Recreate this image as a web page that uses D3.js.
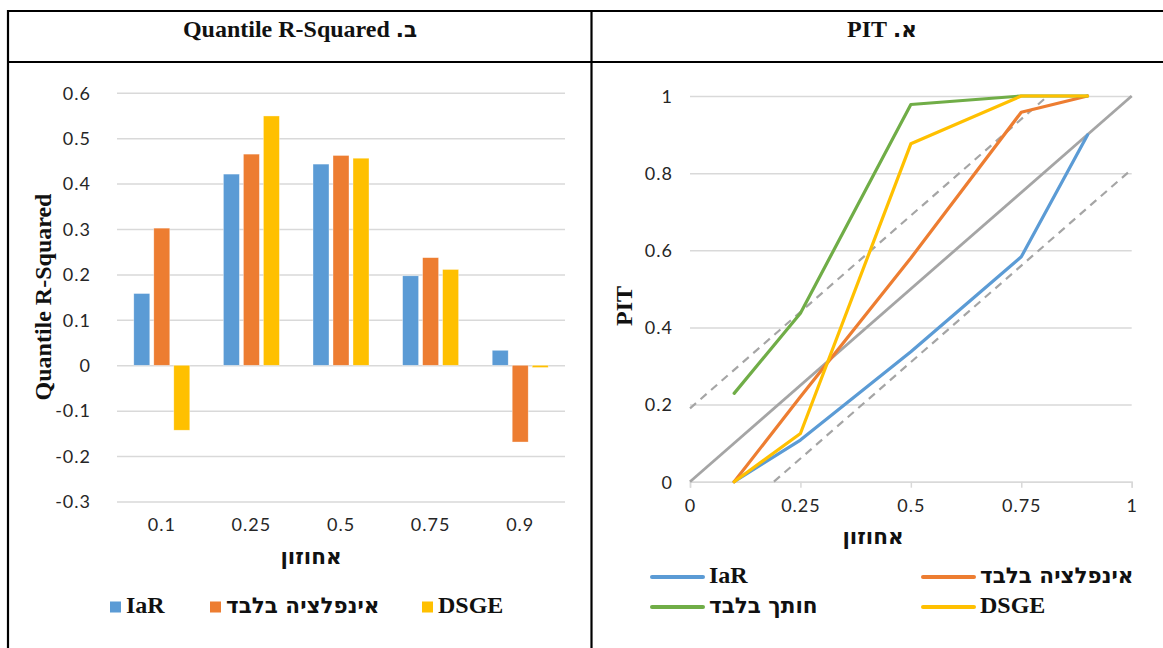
<!DOCTYPE html>
<html><head><meta charset="utf-8">
<script src="https://cdn.jsdelivr.net/npm/d3@7"></script>
<style>
html,body{margin:0;padding:0;background:#fff;}
svg{display:block;}
.tick-lbl{font-family:Lato,"Open Sans",sans-serif;font-size:18px;fill:#262626;letter-spacing:1px;}
.ttl{font-family:"Liberation Serif","DejaVu Sans",serif;font-weight:bold;fill:#111;}
.heb{font-family:"DejaVu Sans",sans-serif;font-weight:bold;fill:#111;}
</style></head>
<body>
<svg id="c" width="1163" height="648"></svg>
<script>
// ---------- data ----------
const categories = ["0.1", "0.25", "0.5", "0.75", "0.9"];
const seriesNames = ["IaR", "אינפלציה בלבד", "DSGE"];
const iarR2 = [0.158, 0.421, 0.443, 0.197, 0.033];
const inflR2 = [0.302, 0.465, 0.462, 0.237, -0.169];
const dsgeR2 = [-0.143, 0.549, 0.456, 0.211, -0.005];
const r2Ticks = [-0.3, -0.2, -0.1, 0, 0.1, 0.2, 0.3, 0.4, 0.5, 0.6];

const pitX = [0.1, 0.25, 0.5, 0.75, 0.9];
const pitIaR = [0, 0.108, 0.337, 0.583, 0.899];
const pitInfl = [0, 0.22, 0.58, 0.958, 1.0];
const pitGap = [0.229, 0.437, 0.978, 1.0, 1.0];
const pitDsge = [0, 0.125, 0.876, 1.0, 1.0];
const pitNames = ["IaR", "אינפלציה בלבד", "חותך בלבד", "DSGE"];
const diagX = [0, 1], diagY = [0, 1];
const upperX = [0, 0.81], upperY = [0.19, 1];
const lowerX = [0.19, 1], lowerY = [0, 0.81];
const pitYTicks = [0, 0.2, 0.4, 0.6, 0.8, 1];
const pitXTicks = [0, 0.25, 0.5, 0.75, 1];

const leftTitleHeb = "ב.";
const leftTitleLat = "Quantile R-Squared";
const rightTitleHeb = "א.";
const rightTitleLat = "PIT";
const xTitle = "אחוזון";
const r2YTitle = "Quantile R-Squared";
const pitYTitle = "PIT";

const colors = {blue:"#5b9bd5", orange:"#ed7d31", yellow:"#ffc000", green:"#70ad47", gray:"#a5a5a5", grid:"#d9d9d9"};
const isHeb = s => /[\u0590-\u05FF]/.test(s) && !/[A-Za-z]/.test(s);
const fmt = v => String(+v.toFixed(2));
const HEB_SIZE = "21.5px", LAT_SIZE = "24px";

// ---------- table frame ----------
const svg = d3.select("#c");
const frame = svg.append("g").attr("stroke", "#000").attr("stroke-width", 2.2);
frame.append("line").attr("x1", 7).attr("x2", 1163).attr("y1", 11).attr("y2", 11);
frame.append("line").attr("x1", 7).attr("x2", 1163).attr("y1", 62).attr("y2", 62);
frame.append("line").attr("x1", 8).attr("x2", 8).attr("y1", 10).attr("y2", 648);
frame.append("line").attr("x1", 591.5).attr("x2", 591.5).attr("y1", 10).attr("y2", 648);

function header(cx, heb, lat) {
  const t = svg.append("text").attr("x", cx).attr("y", 31)
    .attr("direction", "rtl").attr("text-anchor", "middle").attr("dominant-baseline", "middle");
  t.append("tspan").attr("class", "heb").style("font-size", HEB_SIZE).text(heb);
  t.append("tspan").attr("class", "ttl").style("font-size", LAT_SIZE).text(" " + lat);
}
header(300, leftTitleHeb, leftTitleLat);
header(882, rightTitleHeb, rightTitleLat);

// ---------- left: bar chart ----------
{
  const y = d3.scaleLinear().domain([-0.3, 0.6]).range([501.5, 92.8]);
  const x0 = d3.scaleBand().domain(categories).range([117, 565]).paddingInner(0).paddingOuter(0);
  const groupW = 56;
  const x1 = d3.scaleBand().domain(seriesNames).range([0, groupW]).paddingInner(0.2).paddingOuter(0);
  const g = svg.append("g");
  const yAxis = d3.axisLeft(y).tickValues(r2Ticks).tickSize(-(565 - 117)).tickFormat(fmt);
  const ya = g.append("g").attr("transform", "translate(117,0)").call(yAxis);
  ya.select(".domain").remove();
  ya.selectAll("line").attr("stroke", colors.grid).attr("stroke-width", 1.5);
  ya.selectAll("text").attr("class", "tick-lbl").attr("x", -26).attr("dy", "0.35em");

  const data = categories.map((c, i) => ({c, vals: [iarR2[i], inflR2[i], dsgeR2[i]]}));
  const cols = [colors.blue, colors.orange, colors.yellow];
  const grp = g.selectAll(".grp").data(data).enter().append("g")
    .attr("transform", d => `translate(${x0(d.c) + (x0.bandwidth() - groupW) / 2},0)`);
  grp.selectAll("rect").data(d => d.vals.map((v, k) => ({v, k}))).enter().append("rect")
    .attr("x", d => x1(seriesNames[d.k])).attr("width", x1.bandwidth())
    .attr("y", d => y(Math.max(0, d.v))).attr("height", d => Math.abs(y(d.v) - y(0)))
    .attr("fill", d => cols[d.k]).attr("stroke", "#fff").attr("stroke-width", 0.6).attr("stroke-opacity", 0.6);

  const xAxis = d3.axisBottom(x0).tickSize(0);
  const xa = g.append("g").attr("transform", "translate(0,525)").call(xAxis);
  xa.select(".domain").remove();
  xa.selectAll("text").attr("class", "tick-lbl").attr("y", 0).attr("dy", "0.35em");

  g.append("text").attr("class", "ttl").attr("transform", "translate(45,297) rotate(-90)")
    .attr("text-anchor", "middle").attr("dominant-baseline", "middle").style("font-size", LAT_SIZE).text(r2YTitle);
  g.append("text").attr("class", "heb").attr("x", 311).attr("y", 558)
    .attr("text-anchor", "middle").attr("dominant-baseline", "middle").style("font-size", HEB_SIZE).text(xTitle);

  const legX = [110, 210, 422];
  const leg = g.selectAll(".leg").data(seriesNames).enter().append("g")
    .attr("transform", (d, i) => `translate(${legX[i]},607)`);
  leg.append("rect").attr("x", 0).attr("y", -5.5).attr("width", 11).attr("height", 11).attr("fill", (d, i) => cols[i]);
  leg.append("text").attr("class", d => isHeb(d) ? "heb" : "ttl").attr("x", 16).attr("y", 0).attr("dominant-baseline", "middle")
    .style("font-size", d => isHeb(d) ? HEB_SIZE : LAT_SIZE).text(d => d);
}

// ---------- right: PIT lines ----------
{
  const x = d3.scaleLinear().domain([0, 1]).range([690, 1131.7]);
  const y = d3.scaleLinear().domain([0, 1]).range([481.7, 96]);
  const g = svg.append("g");
  const yAxis = d3.axisLeft(y).tickValues(pitYTicks).tickSize(-(1131.7 - 690)).tickFormat(fmt);
  const ya = g.append("g").attr("transform", "translate(690,0)").call(yAxis);
  ya.select(".domain").remove();
  ya.selectAll("line").attr("stroke", colors.grid).attr("stroke-width", 1.5);
  ya.selectAll("text").attr("class", "tick-lbl").attr("x", -17).attr("dy", "0.35em");

  const xAxis = d3.axisBottom(x).tickValues(pitXTicks).tickSize(6).tickFormat(fmt);
  const xa = g.append("g").attr("transform", "translate(0,481.7)").call(xAxis);
  xa.select(".domain").attr("stroke", colors.grid).attr("stroke-width", 1.5);
  xa.selectAll("line").attr("stroke", colors.grid).attr("stroke-width", 1.5);
  xa.selectAll("text").attr("class", "tick-lbl").attr("y", 24).attr("dy", "0.35em");

  const line = d3.line().x(d => x(d[0])).y(d => y(d[1]));
  const zip = (a, b) => a.map((v, i) => [v, b[i]]);
  g.append("path").attr("d", line(zip(upperX, upperY))).attr("fill", "none")
    .attr("stroke", colors.gray).attr("stroke-width", 2.2).attr("stroke-dasharray", "8,6");
  g.append("path").attr("d", line(zip(lowerX, lowerY))).attr("fill", "none")
    .attr("stroke", colors.gray).attr("stroke-width", 2.2).attr("stroke-dasharray", "8,6");
  g.append("path").attr("d", line(zip(diagX, diagY))).attr("fill", "none")
    .attr("stroke", colors.gray).attr("stroke-width", 2.8);

  const series = [
    {name: pitNames[0], vals: pitIaR, c: colors.blue},
    {name: pitNames[1], vals: pitInfl, c: colors.orange},
    {name: pitNames[2], vals: pitGap, c: colors.green},
    {name: pitNames[3], vals: pitDsge, c: colors.yellow}
  ];
  series.forEach(s => {
    g.append("path").attr("d", line(zip(pitX, s.vals))).attr("fill", "none")
      .attr("stroke", s.c).attr("stroke-width", 3.2).attr("stroke-linejoin", "round").attr("stroke-linecap", "round");
  });

  g.append("text").attr("class", "ttl").attr("transform", "translate(626,306) rotate(-90)")
    .attr("text-anchor", "middle").attr("dominant-baseline", "middle").style("font-size", LAT_SIZE).text(pitYTitle);
  g.append("text").attr("class", "heb").attr("x", 873).attr("y", 538)
    .attr("text-anchor", "middle").attr("dominant-baseline", "middle").style("font-size", HEB_SIZE).text(xTitle);

  const legPos = [[652, 577], [923, 577], [652, 607], [923, 607]];
  const leg = g.selectAll(".pleg").data(series).enter().append("g")
    .attr("transform", (d, i) => `translate(${legPos[i][0]},${legPos[i][1]})`);
  leg.append("line").attr("x1", 0).attr("x2", 51).attr("y1", 0).attr("y2", 0)
    .attr("stroke", d => d.c).attr("stroke-width", 4).attr("stroke-linecap", "round");
  leg.append("text").attr("class", d => isHeb(d.name) ? "heb" : "ttl").attr("x", 57).attr("y", 0).attr("dominant-baseline", "middle")
    .style("font-size", d => isHeb(d.name) ? HEB_SIZE : LAT_SIZE).text(d => d.name);
}
</script>
</body></html>
